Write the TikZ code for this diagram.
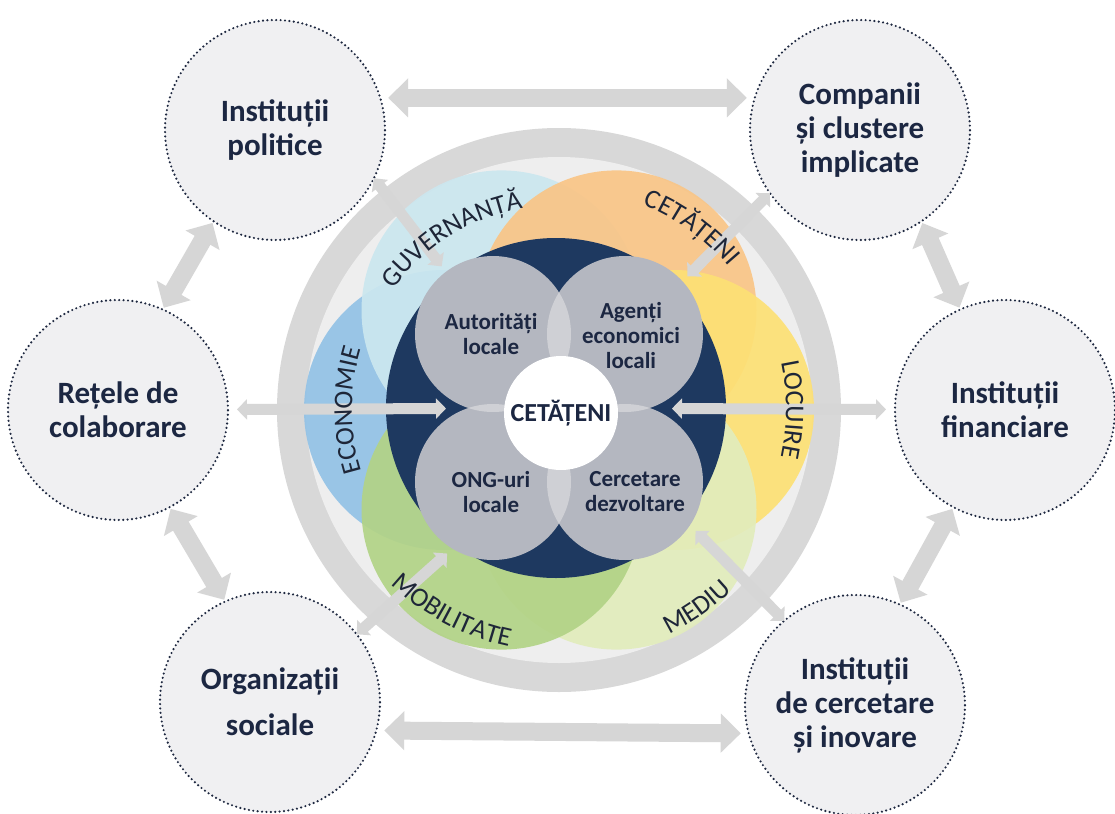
\documentclass[tikz,border=0pt]{standalone}
\usepackage{fontspec}
\setmainfont{Carlito}
\usetikzlibrary{arrows.meta,calc,decorations.text}
\definecolor{txt}{HTML}{1C2742}
\definecolor{labtxt}{HTML}{1E2638}
\definecolor{outerfill}{HTML}{F0F0F2}
\definecolor{dotc}{HTML}{1E2840}
\definecolor{arrowgrey}{HTML}{D6D6D6}
\definecolor{ringgrey}{HTML}{D8D8D8}
\definecolor{ringin}{HTML}{EEEEEE}
\definecolor{navyc}{HTML}{1E3960}
\definecolor{greyc}{HTML}{B4B7C0}
\definecolor{lensc}{HTML}{CFD0D5}
\definecolor{cguv}{HTML}{CBE7EF}
\definecolor{ccet}{HTML}{F9C586}
\definecolor{cloc}{HTML}{FDE074}
\definecolor{cmed}{HTML}{E2ECBC}
\definecolor{cmob}{HTML}{B2D386}
\definecolor{ceco}{HTML}{92C2E6}
\newcommand{\myouterfont}{\fontsize{15.5}{17}\selectfont\bfseries}
\newcommand{\myinnerfont}{\fontsize{11.5}{12.5}\selectfont\bfseries}
\newcommand{\mycenterfont}{\fontsize{13}{14}\selectfont\bfseries}
\newcommand{\mypetalfont}{\fontsize{13.5}{15}\selectfont}
\tikzset{
  outer/.style={circle, minimum size=110pt, inner sep=0pt, outer sep=0pt,
    fill=outerfill, draw=dotc, line width=1.2pt, dash pattern=on 0pt off 2.2pt,
    line cap=round, align=center, text=txt, font=\myouterfont},
  bigarrow/.style={draw=arrowgrey, line width=9pt,
    arrows={Triangle[width=19pt,length=10pt]-Triangle[width=19pt,length=10pt]}},
  midarrow/.style={draw=arrowgrey, line width=5.5pt,
    arrows={Triangle[width=10pt,length=5pt]-Triangle[width=10pt,length=5pt]}},
  petal/.style={fill=#1, fill opacity=0.92},
  navynode/.style={circle, minimum size=170pt, inner sep=0pt, outer sep=0pt, fill=navyc},
  greynode/.style={circle, minimum size=78pt, inner sep=0pt, outer sep=0pt, fill=greyc},
  whitenode/.style={circle, minimum size=57pt, inner sep=0pt, outer sep=0pt, fill=white,
    text=txt, font=\mycenterfont},
  intext/.style={align=center, text=txt, font=\myinnerfont, inner sep=0pt},
  petallabel/.style={decorate, decoration={text along path, text align=center,
    text={|\mypetalfont\color{labtxt}|#1}}}
}
\begin{document}
\begin{tikzpicture}[x=0.5pt,y=0.5pt]
\fill[white] (0,0) rectangle (1115,-814);
\useasboundingbox (0,0) rectangle (1115,-814);
\coordinate (C) at (559,-410);

% ring
\fill[ringgrey] (C) circle (282);
\fill[ringin] (C) circle (253);

% petals
\fill[petal=ceco] ($(C)+(180:115)$) circle (140);
\fill[petal=cguv] ($(C)+(120:115)$) circle (140);
\fill[petal=ccet] ($(C)+(60:115)$) circle (140);
\fill[petal=cloc] ($(C)+(0:115)$) circle (140);
\fill[petal=cmed] ($(C)+(-60:115)$) circle (140);
\fill[petal=cmob] ($(C)+(-120:115)$) circle (140);

% navy disc
\node[navynode] (navy) at (556,-408) {};

% outer circles
\node[outer] (pol) at (275,-130) {Instituții\\politice};
\node[outer] (comp) at (860,-130) {Companii\\și clustere\\implicate};
\node[outer] (ret) at (118,-410) {Rețele de\\colaborare};
\node[outer] (fin) at (1005,-410) {Instituții\\financiare};
\node[outer, font=\fontsize{15.5}{23}\selectfont\bfseries] (org) at (270,-702) {Organizații\\sociale};
\node[outer] (cer) at (855,-705) {Instituții\\de cercetare\\și inovare};

% arrows between outer circles
\draw[bigarrow, shorten <=4pt, shorten >=4pt] (pol.17) -- (comp.163);
\draw[bigarrow, shorten <=4pt, shorten >=4pt] (org.-15) -- (cer.195);
\draw[bigarrow, shorten <=1pt, shorten >=1pt] (pol.236) -- (ret.66);
\draw[bigarrow, shorten <=1pt, shorten >=1pt] (ret.-62) -- (org.114);
\draw[bigarrow, shorten <=1pt, shorten >=1pt] (comp.-56) -- (fin.114);
\draw[bigarrow, shorten <=1pt, shorten >=1pt] (fin.-118) -- (cer.66);

% arrows from the core outwards
\draw[midarrow, shorten <=4.5pt, shorten >=55pt] (ret) -- (navy.center);
\draw[midarrow, shorten <=58pt, shorten >=4.5pt] (navy.center) -- (fin);
\draw[midarrow, shorten <=6pt] (navy.129) -- (pol.-26);
\draw[midarrow, shorten <=8pt] (navy.45) -- (comp.215);
\draw[midarrow, shorten <=6pt] (navy.-126) -- (org.38);
\draw[midarrow, shorten <=8pt] (navy.-41) -- (cer.130);

% petal labels
\path[petallabel={GUVERNANȚĂ}] ($(C)+(162:205)$) arc[start angle=162, end angle=82, radius=205];
\path[petallabel={CETĂȚENI}] ($(C)+(94:222)$) arc[start angle=94, end angle=14, radius=222];
\path[petallabel={LOCUIRE}] ($(C)+(40:227)$) arc[start angle=40, end angle=-40, radius=227];
\path[petallabel={ECONOMIE}] ($(C)+(220:207)$) arc[start angle=220, end angle=140, radius=207];
\path[petallabel={MOBILITATE}] ($(C)+(-158:242)$) arc[start angle=-158, end angle=-78, radius=242];
\path[petallabel={MEDIU}] ($(C)+(-95:250)$) arc[start angle=-95, end angle=-15, radius=250];

% grey actor circles
\node[greynode] (ga) at (493,-334) {};
\node[greynode] (gb) at (625,-334) {};
\node[greynode] (gc) at (493,-482) {};
\node[greynode] (gd) at (625,-482) {};
\begin{scope}\clip (ga) circle (78); \fill[lensc] (gb) circle (78); \end{scope}
\begin{scope}\clip (ga) circle (78); \fill[lensc] (gc) circle (78); \end{scope}
\begin{scope}\clip (gd) circle (78); \fill[lensc] (gb) circle (78); \end{scope}
\begin{scope}\clip (gd) circle (78); \fill[lensc] (gc) circle (78); \end{scope}

\node[whitenode] (cit) at (561,-413) {CETĂȚENI};

\node[intext] (ta) at ($(ga)+(-2,0)$) {Autorități\\locale};
\node[intext] (tb) at ($(gb)+(6,-2)$) {Agenți\\economici\\locali};
\node[intext] (tc) at ($(gc)+(-2,-10)$) {ONG-uri\\locale};
\node[intext] (td) at ($(gd)+(10,-10)$) {Cercetare\\dezvoltare};
\end{tikzpicture}
\end{document}
